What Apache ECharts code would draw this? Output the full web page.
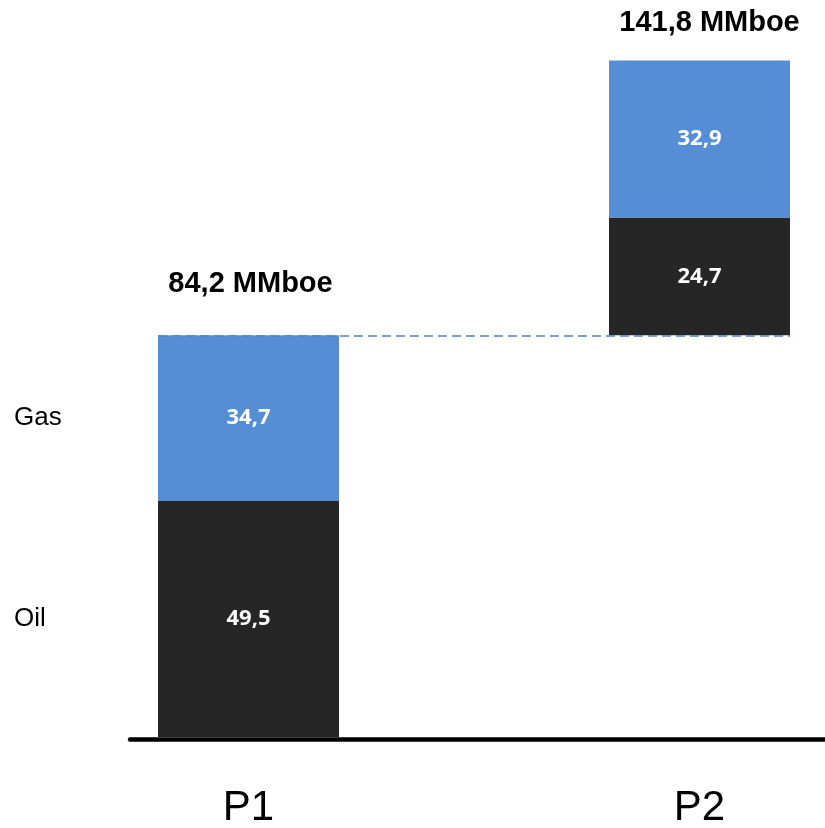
<!DOCTYPE html>
<html>
<head>
<meta charset="utf-8">
<script src="https://cdn.jsdelivr.net/npm/echarts@6/dist/echarts.min.js"></script>
<style>
  html, body { margin: 0; padding: 0; background: #fff; }
  #main { width: 825px; height: 828px; }
</style>
</head>
<body>
<div id="main"></div>
<script>
// data
const categories = ['P1', 'P2']
const oilValues = [49.5, 24.7]
const gasValues = [34.7, 32.9]
const segmentNames = ['Oil', 'Gas']
const unit = 'MMboe'

// styles
const oilColor = '#262626'
const gasColor = '#558ED5'
const barWidth = 181
const totalLabelGap = [37, 23]
const totalLabelShift = [2, 10]
const yMax = 150

// waterfall: each bar starts where the previous one ended
let bases = []
let totals = []
let run = 0
categories.forEach((c, i) => {
  bases.push(run)
  run += oilValues[i] + gasValues[i]
  totals.push(run)
})

function fmt(v) {
  return v.toFixed(1).replace('.', ',')
}

// grid 1 only carries the base line and the dashed connector,
// its x range is set so that 0 and 1 fall on the bar centres of grid 0
const xMin = -0.2627
const xMax = 1.2783
const halfBar = (barWidth / 2) / (695 / (xMax - xMin))

const chart = echarts.init(document.getElementById('main'))

const valueLabel = {
  show: true,
  position: 'inside',
  formatter: p => fmt(p.value),
  color: '#fff',
  fontFamily: 'Open Sans, sans-serif',
  fontWeight: 'bold',
  fontSize: 22
}

const option = {
  animation: false,
  grid: [
    { left: 23, width: 902, top: 21.5, bottom: 91, outerBoundsMode: 'none' },
    { left: 130, right: 0, top: 21.5, bottom: 89, outerBoundsMode: 'none' }
  ],
  xAxis: [
    {
      type: 'category',
      gridIndex: 0,
      data: categories,
      axisLine: { show: false },
      axisTick: { show: false },
      axisLabel: {
        fontFamily: 'Liberation Sans, Arial, sans-serif',
        fontSize: 42,
        color: '#000',
        margin: 50
      }
    },
    {
      type: 'value',
      gridIndex: 1,
      min: xMin,
      max: xMax,
      z: 5,
      axisLine: { show: true, onZero: false, lineStyle: { color: '#000', width: 4.5 } },
      axisTick: { show: false },
      axisLabel: { show: false },
      splitLine: { show: false }
    }
  ],
  yAxis: [
    {
      type: 'value',
      gridIndex: 0,
      min: 0,
      max: yMax,
      axisLine: { show: false },
      axisTick: { show: false },
      splitLine: { show: false },
      axisLabel: {
        customValues: [oilValues[0] / 2, oilValues[0] + gasValues[0] / 2],
        formatter: v => v < oilValues[0] ? segmentNames[0] : segmentNames[1],
        align: 'left',
        margin: 9,
        fontFamily: 'Liberation Sans, Arial, sans-serif',
        fontSize: 26,
        color: '#000'
      }
    },
    {
      // same scale as grid 0, base line sits 2px under the bars
      type: 'value',
      gridIndex: 1,
      min: -2 * yMax / 715.5,
      max: yMax,
      show: false
    }
  ],
  series: [
    {
      name: 'base',
      type: 'bar',
      stack: 'w',
      barWidth: barWidth,
      itemStyle: { color: 'transparent' },
      data: bases
    },
    {
      name: segmentNames[0],
      type: 'bar',
      stack: 'w',
      barWidth: barWidth,
      itemStyle: { color: oilColor },
      label: valueLabel,
      data: oilValues
    },
    {
      name: segmentNames[1],
      type: 'bar',
      stack: 'w',
      barWidth: barWidth,
      itemStyle: { color: gasColor },
      label: valueLabel,
      data: gasValues
    },
    {
      // zero height bar only to carry the total label
      name: 'total',
      type: 'bar',
      stack: 'w',
      barWidth: barWidth,
      itemStyle: { color: 'transparent' },
      data: totals.map((t, i) => ({
        value: 0,
        label: {
          show: true,
          position: 'top',
          distance: totalLabelGap[i],
          offset: [totalLabelShift[i], 0],
          formatter: fmt(t) + ' ' + unit,
          color: '#000',
          fontFamily: 'Liberation Sans, Arial, sans-serif',
          fontWeight: 'bold',
          fontSize: 29
        }
      }))
    },
    {
      // dashed connector from P1 top to P2 bottom
      name: 'connector',
      type: 'line',
      xAxisIndex: 1,
      yAxisIndex: 1,
      data: [],
      markLine: {
        symbol: 'none',
        silent: true,
        z: 6,
        label: { show: false },
        lineStyle: { color: '#4F81BD', type: [9, 5], width: 1.5 },
        data: [[
          { coord: [0 - halfBar, totals[0]] },
          { coord: [categories.length - 1 + halfBar, totals[0]] }
        ]]
      }
    }
  ]
}

chart.setOption(option)
</script>
</body>
</html>
